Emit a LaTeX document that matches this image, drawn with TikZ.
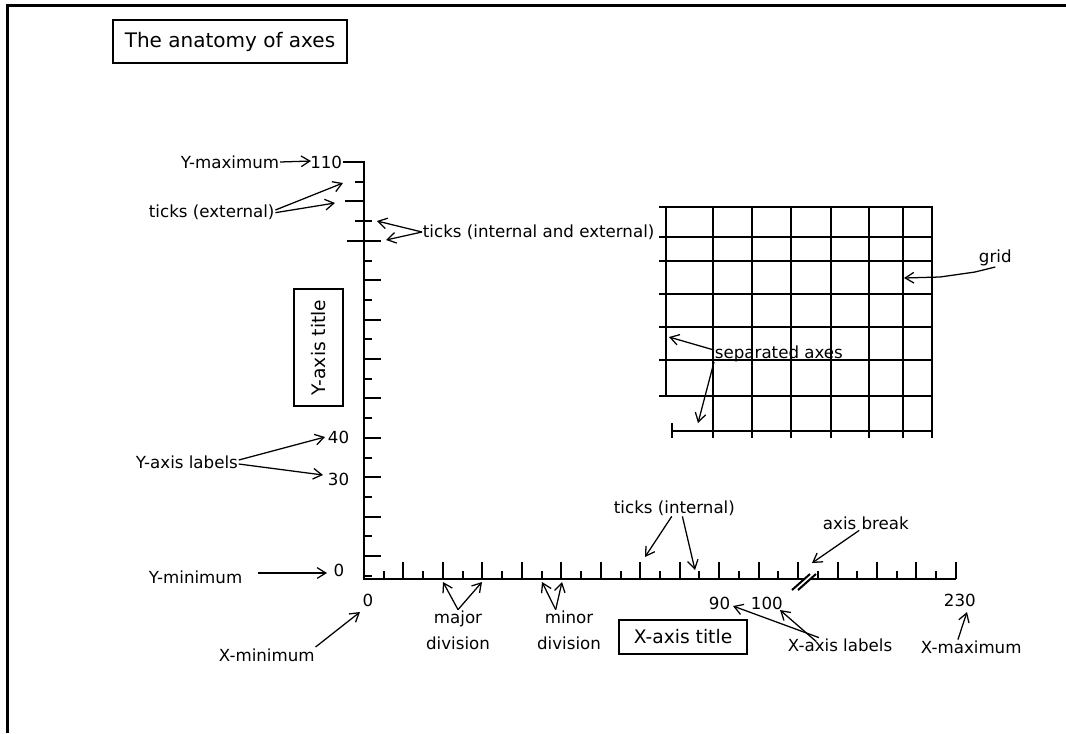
\documentclass[tikz,border=0pt]{standalone}
\usepackage{fontspec}
\setmainfont{DejaVu Sans}
\usetikzlibrary{arrows.meta}
\begin{document}
\begin{tikzpicture}[x=0.75pt,y=-0.75pt,
  lbl/.style={font=\fontsize{12.5pt}{15pt}\selectfont, inner sep=0.5pt},
  boxlbl/.style={draw, line width=1.1pt, font=\fontsize{14pt}{16pt}\selectfont, inner sep=0pt},
  axis/.style={line width=1.5pt},
  gridline/.style={line width=1.4pt},
  arr/.style={line width=0.95pt, -{Straight Barb[length=6.5pt,width=8pt]}},
  frame/.style={line width=2.6pt}
]
\useasboundingbox (0,0) rectangle (1066,733);
% frame
\draw[frame] (7.5,733) -- (7.5,5.5) -- (1066,5.5);

% title
\node[boxlbl, font=\fontsize{15pt}{18pt}\selectfont, minimum width=175.5pt, minimum height=32.25pt] (title) at (230,41.5) {The anatomy of axes};

% main axes
\coordinate (O) at (364,579);
\draw[axis] (343,162) -- (364,162) -- (O) -- (805,579);
\draw[axis] (810,579) -- (956,579);
% y ticks (internal)
\foreach \k in {-1,0,...,15} {
  \pgfmathsetmacro\yy{556-19.7*\k}
  \pgfmathtruncatemacro\odd{mod(\k+2,2)}
  \pgfmathsetmacro\len{ifthenelse(\odd==1,8,17)}
  \draw[axis] (364,\yy) -- ++(\len,0);
}
% y ticks internal and external / external
\draw[axis] (347,240.8) -- (381,240.8);
\draw[axis] (355,221.1) -- (372,221.1);
\draw[axis] (345,201.4) -- (364,201.4);
\draw[axis] (355,181.7) -- (364,181.7);
% x ticks
\foreach \k in {1,...,30} {
  \pgfmathsetmacro\xx{364+19.73*\k}
  \pgfmathtruncatemacro\odd{mod(\k,2)}
  \pgfmathsetmacro\len{ifthenelse(\odd==1,8,17)}
  \draw[axis] (\xx,579) -- ++(0,-\len);
}
% axis break
\draw[axis] (792,590) -- (810,574);
\draw[axis] (798,590) -- (816,574);

% grid
\foreach \yy in {207,237,261,294,327,360,396} {
  \draw[gridline] (659,\yy) -- (932,\yy);
}
\draw[gridline] (666,207) -- (666,396);
\foreach \xx in {713,752,791,831,869,903,932} {
  \draw[gridline] (\xx,206) -- (\xx,438);
}
\draw[gridline] (672,431) -- (932,431);
\draw[gridline] (672,423) -- (672,438);

% labels
\node[lbl, anchor=west] (ymax) at (180,162) {Y-maximum};
\node[lbl, anchor=east] (l110) at (343,162) {110};
\node[lbl, anchor=west] (tickext) at (148,212) {ticks (external)};
\node[lbl, anchor=west] (tickie) at (422,232) {ticks (internal and external)};
\node[boxlbl, rotate=90, minimum width=87.75pt, minimum height=36.75pt] (ytitle) at (318.5,347.5) {Y-axis title};
\node[lbl, anchor=west] (ylabels) at (135,462) {Y-axis labels};
\node[lbl, anchor=west] (l40) at (327,437) {40};
\node[lbl, anchor=west] (l30) at (327,479) {30};
\node[lbl, anchor=west] (ymin) at (148,577) {Y-minimum};
\node[lbl] (l0y) at (339,570) {0};
\node[lbl] (l0x) at (368,600) {0};
\node[lbl, anchor=west] (xmin) at (218,655) {X-minimum};
\node[lbl, align=center, font=\fontsize{12.5pt}{19.5pt}\selectfont] (major) at (458,630) {major\\division};
\node[lbl, align=center, font=\fontsize{12.5pt}{19.5pt}\selectfont] (minor) at (569,630) {minor\\division};
\node[boxlbl, minimum width=96pt, minimum height=25.5pt] (xtitle) at (683,637) {X-axis title};
\node[lbl, anchor=west] (tickint) at (613,508) {ticks (internal)};
\node[lbl, anchor=west] (l90) at (708,603) {90};
\node[lbl, anchor=west] (l100) at (750,603) {100};
\node[lbl, anchor=west] (l230) at (943,600) {230};
\node[lbl, anchor=west] (xmax) at (920,647) {X-maximum};
\node[lbl, anchor=west] (xlabels) at (787,645) {X-axis labels};
\node[lbl, anchor=west] (axbreak) at (822,523) {axis break};
\node[lbl, anchor=west] (gridl) at (978,258) {grid};
\node[lbl, anchor=west] (sepax) at (714,354) {separated axes};

% arrow tips
\coordinate (tymax) at (311,161);
\coordinate (text1) at (343,183);
\coordinate (text2) at (335,203);
\coordinate (tie1) at (377,221);
\coordinate (tie2) at (386,240);
\coordinate (tyl40) at (325,437);
\coordinate (tyl30) at (323,475);
\coordinate (tymin) at (327,573);
\coordinate (txmin) at (360,612);
\coordinate (tmaj1) at (443,582);
\coordinate (tmaj2) at (482,582);
\coordinate (tmin1) at (542,582);
\coordinate (tmin2) at (562,582);
\coordinate (tti1) at (645,557);
\coordinate (tti2) at (695,570);
\coordinate (tbreak) at (812,563);
\coordinate (txl90) at (733,606);
\coordinate (txl100) at (780,610);
\coordinate (txmax) at (967,612);
\coordinate (tgrid) at (904,278);
\coordinate (tsep1) at (669,337);
\coordinate (tsep2) at (698,423);

% arrows
\draw[arr] (ymax.east) -- (tymax);
\draw[arr] ([yshift=1.5pt]tickext.east) -- (text1);
\draw[arr] ([yshift=-0.5pt]tickext.east) -- (text2);
\draw[arr] (tickie.west) -- (tie1);
\draw[arr] (tickie.west) -- (tie2);
\draw[arr] ([yshift=1.5pt]ylabels.east) -- (tyl40);
\draw[arr] ([yshift=-1.5pt]ylabels.east) -- (tyl30);
\draw[arr] ([xshift=11pt,yshift=3pt]ymin.east) -- (tymin);
\draw[arr] ([yshift=6pt]xmin.east) -- (txmin);
\draw[arr] (major.north) -- (tmaj1);
\draw[arr] (major.north) -- (tmaj2);
\draw[arr] ([xshift=-10pt]minor.north) -- (tmin1);
\draw[arr] ([xshift=-10pt]minor.north) -- (tmin2);
\draw[arr] ([xshift=-2pt]tickint.south) -- (tti1);
\draw[arr] ([xshift=6pt]tickint.south) -- (tti2);
\draw[arr] ([xshift=-5pt]axbreak.south) -- (tbreak);
\draw[arr] ([xshift=24pt]xlabels.north west) -- (txl90);
\draw[arr] ([xshift=22pt,yshift=-3pt]xlabels.north west) -- (txl100);
\draw[arr] ([xshift=-10pt]xmax.north) -- (txmax);
\draw[arr] ([xshift=13pt]gridl.south west) -- (975,272) -- (940,277) -- (tgrid);
\draw[arr] ([yshift=3pt]sepax.west) -- (tsep1);
\draw[arr] ([yshift=-6pt]sepax.west) -- (tsep2);
\end{tikzpicture}
\end{document}
